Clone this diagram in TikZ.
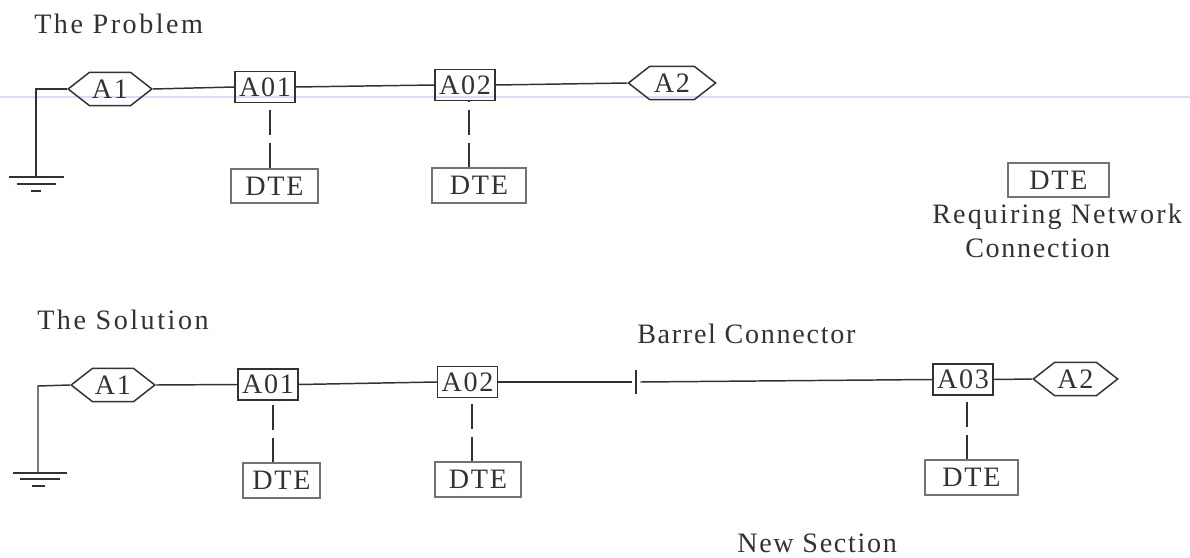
\documentclass[tikz,border=0pt]{standalone}
\usepackage{fontspec}
\setmainfont[LetterSpace=6]{Liberation Serif}
\newfontfamily\widefont[LetterSpace=9]{Liberation Serif}
\newfontfamily\midfont[LetterSpace=7.5]{Liberation Serif}
\usetikzlibrary{calc}
\usetikzlibrary{shapes.symbols}

\definecolor{ink}{HTML}{2E3431}
\definecolor{pale}{HTML}{6F7471}
\definecolor{scanline}{HTML}{D8DCF4}

\tikzset{
    wire/.style={draw=ink, line width=1.05pt},
    stub/.style={draw=ink, line width=1.05pt, dash pattern=on 17.7pt off 5.7pt},
    txt/.style={inner sep=0pt, anchor=base west, text=ink, font=\fontsize{20}{24}\selectfont},
    repeater/.style={draw=ink, line width=1.05pt, inner sep=0pt, minimum width=42.5pt, minimum height=22pt,
        text=ink, font=\fontsize{20}{24}\selectfont},
    station/.style={draw=pale, line width=1.2pt, inner sep=0pt, minimum height=24.5pt,
        text=ink, font=\fontsize{20}{24}\selectfont},
    term/.style={draw=ink, line width=1.05pt, inner sep=0pt, shape=signal, signal to=east and west,
        signal pointer angle=76, minimum height=23.5pt,
        text=ink, font=\fontsize{20}{24}\selectfont},
}

\begin{document}
\begin{tikzpicture}[x=0.025cm, y=-0.025cm]
        \useasboundingbox (0,0) rectangle (1190,558);

        % scan line
        \coordinate (scanL) at (0,97);
        \coordinate (scanR) at (1190,97);
        \draw[scanline, line width=0.8pt] (scanL) -- (scanR);

        % titles
        \node[txt] (problem) at (34,34) {\widefont The Problem};
        \node[txt] (solution) at (37,329) {\widefont The Solution};
        \node[txt] (barreltxt) at (637,343) {Barrel Connector};
        \node[txt] (newsec) at (737,552) {New Section};
        \node[txt] (reqtxt) at (932,223) {\midfont Requiring Network};
        \node[txt] (contxt) at (965,257) {Connection};

        % upper row
        \node[term, minimum width=59.5pt] (upA1) at (110,89) {A1};
        \node[repeater] (upA01) at (265,87) {A01};
        \node[repeater] (upA02) at (465,85) {A02};
        \node[term, minimum width=62pt] (upA2) at (672,83) {A2};
        \node[station, minimum width=61.5pt] (upD1) at (274.5,186) {DTE};
        \node[station, minimum width=66.5pt] (upD2) at (479,185.5) {DTE};
        \node[station, minimum width=71.5pt] (keyD) at (1058.5,180) {DTE};

        % lower row
        \node[term, minimum width=59.5pt] (loA1) at (113,385) {A1};
        \node[repeater] (loA01) at (268,384.5) {A01};
        \node[repeater] (loA02) at (467.5,382) {A02};
        \node[inner sep=0pt, minimum width=5.7pt, minimum height=17pt] (barrel) at (636,382) {};
        \node[repeater] (loA03) at (963,379.5) {A03};
        \node[term, minimum width=60pt] (loA2) at (1075.5,379) {A2};
        \node[station, minimum width=54.5pt] (loD1) at (281.5,480.5) {DTE};
        \node[station, minimum width=61pt] (loD2) at (478,479.5) {DTE};
        \node[station, minimum width=66pt] (loD3) at (971.5,477.5) {DTE};

        % ground, upper
        \coordinate (upC) at (36,89);
        \coordinate (upG) at (36,177);
        \coordinate (upGa) at (9,177);
        \coordinate (upGb) at (64,177);
        \coordinate (upGc) at (17,184);
        \coordinate (upGd) at (56,184);
        \coordinate (upGe) at (31,191);
        \coordinate (upGf) at (41,191);
        \draw[wire] (upA1.west) -- (upC) -- (upG);
        \draw[wire] (upGa) -- (upGb);
        \draw[wire] (upGc) -- (upGd);
        \draw[wire] (upGe) -- (upGf);

        % ground, lower
        \coordinate (loC) at (38,386);
        \coordinate (loG) at (38,473);
        \coordinate (loGa) at (13,473);
        \coordinate (loGb) at (67,473);
        \coordinate (loGc) at (20,479);
        \coordinate (loGd) at (60,479);
        \coordinate (loGe) at (32,486);
        \coordinate (loGf) at (45,486);
        \draw[wire] (loA1.west) -- (loC) -- (loG);
        \draw[wire] (loGa) -- (loGb);
        \draw[wire] (loGc) -- (loGd);
        \draw[wire] (loGe) -- (loGf);

        % cable
        \draw[wire] (upA1.east) -- (upA01.west);
        \draw[wire] (upA01.east) -- (upA02.west);
        \draw[wire] (upA02.east) -- (upA2.west);
        \draw[wire] (loA1.east) -- (loA01.west);
        \draw[wire] (loA01.east) -- (loA02.west);
        \draw[wire] (loA02.east) -- (barrel.west);
        \draw[wire] (barrel.east) -- (loA03.west);
        \draw[wire] (loA03.east) -- (loA2.west);
        \draw[wire] (barrel.north) -- (barrel.south);

        % stubs
        \coordinate (s1) at (270,0);
        \coordinate (s2) at (469,0);
        \coordinate (s3) at (273,0);
        \coordinate (s4) at (472,0);
        \coordinate (s5) at (967,0);
        \draw[stub] (s1 |- upD1.north) -- (s1 |- upA01.south);
        \draw[stub] (s2 |- upD2.north) -- (s2 |- upA02.south);
        \draw[stub] (s3 |- loD1.north) -- (s3 |- loA01.south);
        \draw[stub] (s4 |- loD2.north) -- (s4 |- loA02.south);
        \draw[stub] (s5 |- loD3.north) -- (s5 |- loA03.south);
\end{tikzpicture}
\end{document}
